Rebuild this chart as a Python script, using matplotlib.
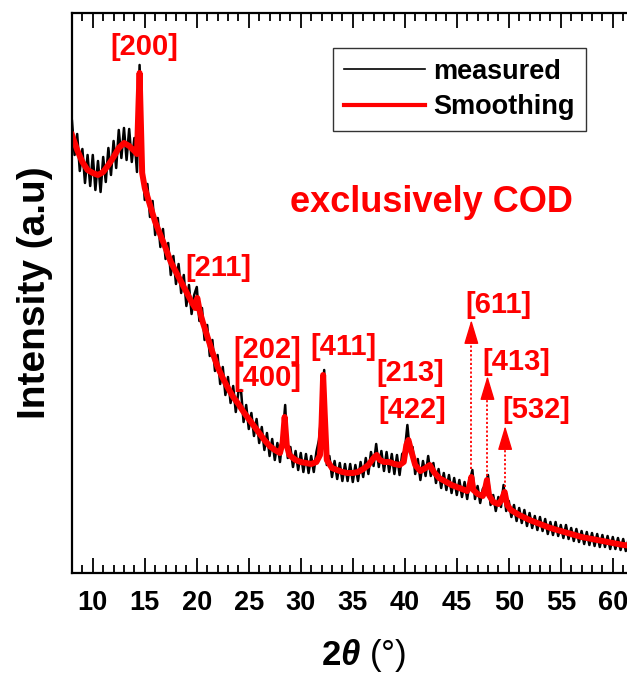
import numpy as np
import matplotlib
matplotlib.use("Agg")
import matplotlib.pyplot as plt

plt.rcParams['font.family'] = ['Liberation Sans', 'DejaVu Sans']
plt.rcParams['font.weight'] = 'bold'
plt.rcParams['mathtext.fontset'] = 'custom'
plt.rcParams['mathtext.rm'] = 'Liberation Sans'
plt.rcParams['mathtext.it'] = 'Liberation Sans:italic'
plt.rcParams['mathtext.bf'] = 'Liberation Sans:bold'

# smoothed pattern (2theta, intensity a.u.)
smooth_x = [8.0, 8.5, 9.0, 9.5, 10.0, 10.5, 11.0, 11.5, 12.0, 12.5, 13.0, 13.5, 14.0, 14.25,
            14.4, 14.5, 14.6, 14.75, 15.0, 15.5, 16.0, 16.5, 17.0, 17.5, 18.0, 18.5, 19.0,
            19.5, 19.85, 20.05, 20.3, 20.6, 21.0, 21.5, 22.0, 22.5, 23.0, 23.5, 24.0, 24.5,
            25.0, 25.5, 26.0, 26.5, 27.0, 27.5, 28.0, 28.25, 28.45, 28.65, 28.9, 29.5, 30.0,
            30.5, 31.0, 31.5, 31.85, 32.0, 32.15, 32.3, 32.5, 33.0, 33.5, 34.0, 34.5, 35.0,
            35.5, 36.0, 36.5, 37.0, 37.3, 37.6, 38.0, 38.5, 39.0, 39.5, 39.9, 40.15, 40.35,
            40.6, 41.0, 41.5, 42.0, 42.4, 42.8, 43.3, 44.0, 44.5, 45.0, 45.5, 46.0, 46.2,
            46.4, 46.6, 47.0, 47.5, 47.7, 47.9, 48.1, 48.5, 49.0, 49.3, 49.6, 49.85, 50.2,
            51.0, 52.0, 53.0, 54.0, 55.0, 56.0, 57.0, 58.0, 59.0, 60.0, 61.0, 62.0]
smooth_y = [438, 423, 411, 403, 400, 398, 401, 408, 416, 425, 430, 427, 422, 419,
            470, 500, 460, 400, 385, 368, 351, 338, 325, 311, 301, 291, 281,
            271, 265, 275, 261, 250, 237, 221, 206, 195, 185, 176, 169, 161,
            154, 147, 140, 133, 127, 123, 120, 130, 156, 128, 118, 113, 111,
            110, 109, 111, 118, 150, 198, 160, 113, 105, 103, 101, 100, 100,
            101, 104, 108, 115, 118, 113, 111, 111, 109, 108, 111, 128, 133,
            123, 108, 102, 105, 108, 101, 95, 91, 88, 86, 84, 82, 86,
            96, 83, 79, 77, 83, 93, 78, 71, 69, 73, 81, 68, 63,
            58, 53, 49, 45, 42, 39, 36, 34, 32, 30, 28, 27]

# measured pattern, 0.25 deg steps from 8 to 62
measured_y = [
    452, 418, 439, 402,   # 8
    424, 390, 418, 387,   # 9
    418, 383, 412, 381,   # 10
    416, 391, 425, 398,   # 11
    432, 405, 443, 415,   # 12
    445, 413, 444, 411,   # 13
    435, 401, 508, 412,   # 14
    373, 389, 356, 372,   # 15
    338, 355, 326, 344,   # 16
    314, 330, 298, 317,   # 17
    289, 309, 280, 298,   # 18
    267, 288, 259, 278,   # 19
    286, 252, 265, 233,   # 20
    248, 217, 233, 202,   # 21
    218, 189, 206, 178,   # 22
    196, 170, 187, 161,   # 23
    181, 183, 151, 168,   # 24
    144, 160, 137, 154,   # 25
    130, 146, 123, 140,   # 26
    117, 134, 113, 130,   # 27
    111, 136, 168, 115,   # 28
    126, 106, 122, 103,   # 29
    120, 101, 119, 100,   # 30
    117, 101, 121, 133,   # 31
    160, 203, 108, 117,   # 32
    96, 112, 94, 110,     # 33
    92, 109, 92, 109,     # 34
    91, 108, 92, 111,     # 35
    96, 115, 99, 121,     # 36
    107, 129, 106, 122,   # 37
    102, 121, 101, 119,   # 38
    99, 118, 98, 119,     # 39
    122, 148, 120, 126,   # 40
    99, 114, 93, 112,     # 41
    97, 117, 97, 110,     # 42
    90, 104, 85, 100,     # 43
    83, 98, 80, 95,       # 44
    78, 93, 76, 91,       # 45
    74, 92, 103, 74,      # 46
    87, 70, 84, 88,       # 47
    98, 68, 78, 62,       # 48
    76, 66, 88, 62,       # 49
    72, 56, 68, 52,       # 50
    65, 50, 63, 47,       # 51
    60, 45, 57, 43,       # 52
    56, 42, 54, 39,       # 53
    51, 38, 51, 37,       # 54
    48, 35, 48, 34,       # 55
    45, 32, 44, 31,       # 56
    42, 29, 41, 28,       # 57
    40, 27, 39, 26,       # 58
    38, 26, 37, 24,       # 59
    36, 24, 35, 23,       # 60
    34, 22, 33, 21,       # 61
    32,                   # 62
]
measured_x = np.linspace(8.0, 62.0, len(measured_y))

# peak labels and where they sit (2theta, intensity)
peak_labels = ['[200]', '[211]', '[202]', '[400]', '[411]', '[213]', '[422]',
               '[611]', '[413]', '[532]']
label_pos = [(15.0, 526), (22.05, 305), (26.8, 223), (26.8, 195), (34.1, 226),
             (40.5, 200), (40.7, 163), (49.0, 268), (50.7, 211), (52.6, 163)]

# small peaks marked with dotted arrows
arrow_x = [46.4, 47.95, 49.65]
arrow_tip = [253, 197, 147]

fig = plt.figure(figsize=(6.27, 6.79), dpi=100)
ax = fig.add_axes([0.1148, 0.1561, 0.8957, 0.8248])

ax.plot(measured_x, measured_y, color='black', lw=1.8, label='measured')
ax.plot(smooth_x, smooth_y, color='red', lw=4.3, label='Smoothing')

for lab, (lx, ly) in zip(peak_labels, label_pos):
    ax.text(lx, ly, lab, color='red', fontsize=21, fontweight='bold',
            ha='center', va='center')

for px, tip in zip(arrow_x, arrow_tip):
    base = np.interp(px, smooth_x, smooth_y) + 8
    ax.plot([px, px], [base, tip - 14], color='red', lw=1.3, ls=(0, (1.2, 1.2)))
    ax.annotate('', xy=(px, tip), xytext=(px, tip - 16),
                arrowprops=dict(arrowstyle='-|>,head_length=1.5,head_width=0.45',
                                color='red', lw=1, mutation_scale=10,
                                shrinkA=0, shrinkB=0))

ax.text(42.6, 370, 'exclusively COD', color='red', fontsize=26,
        fontweight='bold', ha='center', va='center')

ax.set_xlim(8, 62)
ax.set_ylim(0, 560)
ax.set_xticks(np.arange(10, 61, 5))
ax.set_xticks(np.arange(8, 63, 1), minor=True)
ax.set_yticks([])
ax.tick_params(axis='x', which='both', direction='in', top=True, labelsize=19.5, pad=12)
ax.tick_params(axis='x', which='major', length=11, width=1.3)
ax.tick_params(axis='x', which='minor', length=5.5, width=1.3)
for lbl in ax.get_xticklabels():
    lbl.set_fontweight('bold')
for sp in ax.spines.values():
    sp.set_linewidth(1.6)

ax.set_ylabel('Intensity (a.u)', fontsize=28, fontweight='bold', labelpad=14)
ax.set_xlabel(r'$\mathbf{2}\mathit{\theta}$ (°)', fontsize=25, fontweight='normal')
ax.xaxis.set_label_coords(0.52, -0.115)
ax.xaxis.label.set_va('top')

# legend lines drawn thinner than the plotted ones
leg = ax.legend(loc='upper right', bbox_to_anchor=(0.915, 0.9375), borderaxespad=0,
                fontsize=19.5, frameon=True, fancybox=False, handlelength=3.0,
                handletextpad=0.3, labelspacing=0.35, borderpad=0.4)
leg.get_frame().set_edgecolor('black')
leg.get_frame().set_linewidth(1.0)
leg.get_lines()[0].set_linewidth(1.2)
leg.get_lines()[1].set_linewidth(3.0)
for t in leg.get_texts():
    t.set_fontweight('bold')

fig.savefig('out.png', dpi=100)
